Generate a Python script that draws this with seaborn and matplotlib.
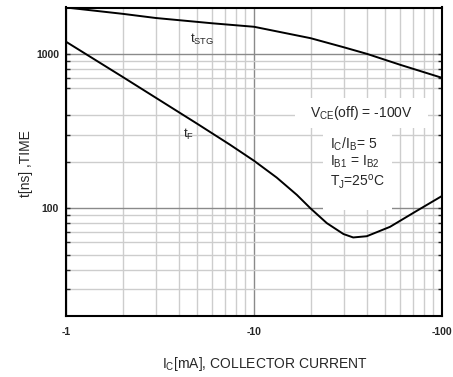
import numpy as np
import pandas as pd
import matplotlib
matplotlib.use("Agg")
import matplotlib.pyplot as plt
from matplotlib.patches import Rectangle
from matplotlib.ticker import FixedLocator, FixedFormatter, NullFormatter
import seaborn as sns

# ---- data ----
ic_stg = [1, 2, 3, 6, 10, 20, 30, 40, 60, 100]
t_stg = [2000, 1820, 1710, 1580, 1500, 1265, 1105, 1000, 850, 700]

ic_f = [1, 2, 5, 7.45, 10, 13.2, 16.9, 20, 24.4, 29.9, 33.7, 39.8, 52.9, 73.3, 100]
t_f = [1200, 710, 352, 258, 203, 158, 122, 99.6, 80, 68, 64.6, 65.8, 75.7, 96, 120]

x_ticks = [1, 10, 100]
x_tick_labels = ["-1", "-10", "-100"]
y_ticks = [100, 1000]
y_tick_labels = ["100", "1000"]
x_minor = [2, 3, 4, 5, 6, 7, 8, 9, 20, 30, 40, 50, 60, 70, 80, 90]
y_minor = [30, 40, 50, 60, 70, 80, 90, 200, 300, 400, 600, 700, 800, 900]

sns.set_style("white")
plt.rcParams['font.family'] = ['Liberation Sans', 'DejaVu Sans']
plt.rcParams['mathtext.fontset'] = 'custom'
plt.rcParams['mathtext.rm'] = 'Liberation Sans'
plt.rcParams['mathtext.it'] = 'Liberation Sans'

fig = plt.figure(figsize=(4.53, 3.77), dpi=100)
ax = fig.add_axes([66/453, 61/377, 376/453, 308.5/377])

df_stg = pd.DataFrame({"ic": ic_stg, "t": t_stg})
df_f = pd.DataFrame({"ic": ic_f, "t": t_f})
sns.lineplot(data=df_stg, x="ic", y="t", ax=ax, color="black", lw=1.4, sort=False, zorder=3)
sns.lineplot(data=df_f, x="ic", y="t", ax=ax, color="black", lw=1.4, sort=False, zorder=3)

ax.set_xscale("log")
ax.set_yscale("log")
ax.set_xlim(1, 100)
ax.set_ylim(20, 2000)

ax.xaxis.set_major_locator(FixedLocator(x_ticks))
ax.xaxis.set_major_formatter(FixedFormatter(x_tick_labels))
ax.xaxis.set_minor_locator(FixedLocator(x_minor))
ax.xaxis.set_minor_formatter(NullFormatter())
ax.yaxis.set_major_locator(FixedLocator(y_ticks))
ax.yaxis.set_major_formatter(FixedFormatter(y_tick_labels))
ax.yaxis.set_minor_locator(FixedLocator(y_minor))
ax.yaxis.set_minor_formatter(NullFormatter())

ax.set_axisbelow(True)
ax.grid(which="major", color="#8a8a8a", lw=1.0)
ax.grid(which="minor", color="#cdcdcd", lw=1.0)

ax.tick_params(axis="x", which="both", length=0, pad=8, labelsize=7.5)
ax.tick_params(axis="y", which="both", direction="in", left=True, right=True,
               length=3, width=1, pad=5, labelsize=7.5)
for lab in ax.get_xticklabels() + ax.get_yticklabels():
    lab.set_fontweight("bold")

for sp in ax.spines.values():
    sp.set_color("black")
    sp.set_linewidth(1.5)
    sp.set_visible(True)

ax.set_xlabel("")
ax.set_ylabel("")

# white boxes behind annotation
ax.add_patch(Rectangle((0.609, 0.608), 0.354, 0.098, transform=ax.transAxes,
                       facecolor="white", edgecolor="none", zorder=1))
ax.add_patch(Rectangle((0.684, 0.343), 0.183, 0.268, transform=ax.transAxes,
                       facecolor="white", edgecolor="none", zorder=1))

def fx(px):
    return px / 453
def fy(py):
    return 1 - py / 377

fig.text(fx(190), fy(39), r"t$_\mathregular{STG}$", fontsize=9.5, ha="left", va="center")
fig.text(fx(183), fy(134), r"t$_\mathregular{F}$", fontsize=9.5, ha="left", va="center")

fig.text(fx(361), fy(113), r"V$_\mathregular{CE}$(off) = -100V", fontsize=10, ha="center", va="center")
fig.text(fx(330), fy(144), r"I$_\mathregular{C}$/I$_\mathregular{B}$= 5", fontsize=10, ha="left", va="center")
fig.text(fx(330), fy(162), r"I$_\mathregular{B1}$ = I$_\mathregular{B2}$", fontsize=10, ha="left", va="center")
fig.text(fx(330), fy(182), r"T$_\mathregular{J}$=25$^\mathregular{o}$C", fontsize=10, ha="left", va="center")

fig.text(fx(265), fy(364), r"I$_\mathregular{C}$[mA], COLLECTOR CURRENT", fontsize=10, ha="center", va="center")
fig.text(fx(26), fy(164), "t[ns] ,TIME", fontsize=10, ha="center", va="center", rotation=90)

fig.savefig("out.png", dpi=100, facecolor="white")
